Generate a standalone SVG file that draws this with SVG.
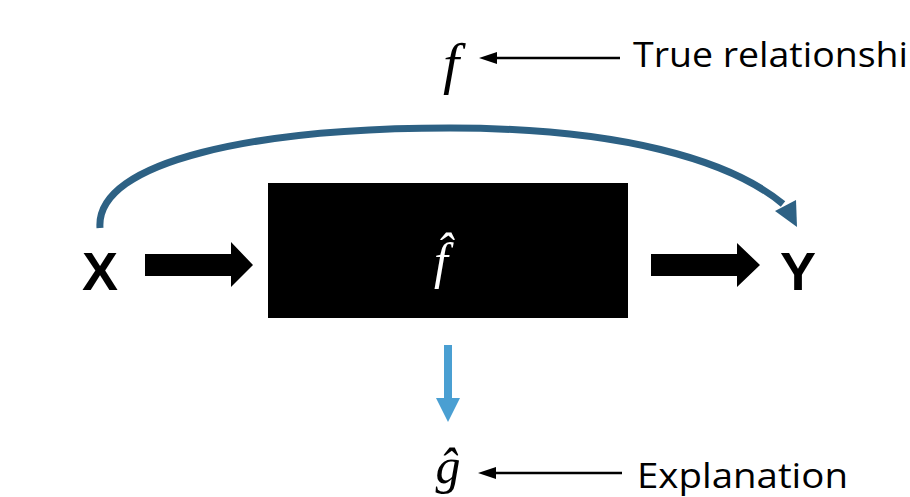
<svg xmlns="http://www.w3.org/2000/svg" width="910" height="497" viewBox="0 0 910 497">
<style>
.lbl{font-family:"Open Sans","Liberation Sans",sans-serif;font-size:34px;fill:#000}
.var{font-family:"Liberation Sans",Arial,sans-serif;font-weight:bold;font-size:54px;fill:#000;text-anchor:middle}
.math{font-family:"Liberation Serif","DejaVu Serif",serif;font-style:italic;text-anchor:middle}
.thin{stroke:#000;stroke-width:2.5;fill:none}
</style>
<rect width="910" height="497" fill="#fff"/>
<g id="box">
<rect x="268" y="183" width="360" height="135" fill="#000"/>
<text class="math" x="441" y="278" font-size="50" fill="#fff">f̂</text>
</g>
<g id="X"><text class="var" x="100" y="290">X</text></g>
<g id="Y"><text class="var" x="798" y="290">Y</text></g>
<g id="f"><text class="math" x="451" y="83" font-size="58" fill="#000">f</text></g>
<g id="ghat"><text class="math" x="448" y="483" font-size="50" fill="#000">ĝ</text></g>
<g id="true-label"><text class="lbl" x="633" y="67" textLength="275" lengthAdjust="spacingAndGlyphs">True relationshi</text></g>
<g id="expl-label"><text class="lbl" x="637" y="488" textLength="211" lengthAdjust="spacingAndGlyphs">Explanation</text></g>
<g id="connectors">
<polygon points="145,254 231,254 231,242 253,265 231,287 231,276 145,276" fill="#000"/>
<polygon points="651,254 737,254 737,243 760,265 737,287 737,276 651,276" fill="#000"/>
<path d="M100,228 C95,160 260,128 450,128 C620,128 730,160 783,204" fill="none" stroke="#2d6184" stroke-width="7"/>
<polygon points="775,211 796,200 797,227" fill="#2d6184"/>
<polygon points="444,345 452,345 452,398 460,398 448,422 436,398 444,398" fill="#4a9fd2"/>
<line class="thin" x1="620" y1="58" x2="494" y2="58"/>
<polygon points="479,58 497,52 497,64" fill="#000"/>
<line class="thin" x1="622" y1="473" x2="493" y2="473"/>
<polygon points="478,473 496,467 496,479" fill="#000"/>
</g>
</svg>
